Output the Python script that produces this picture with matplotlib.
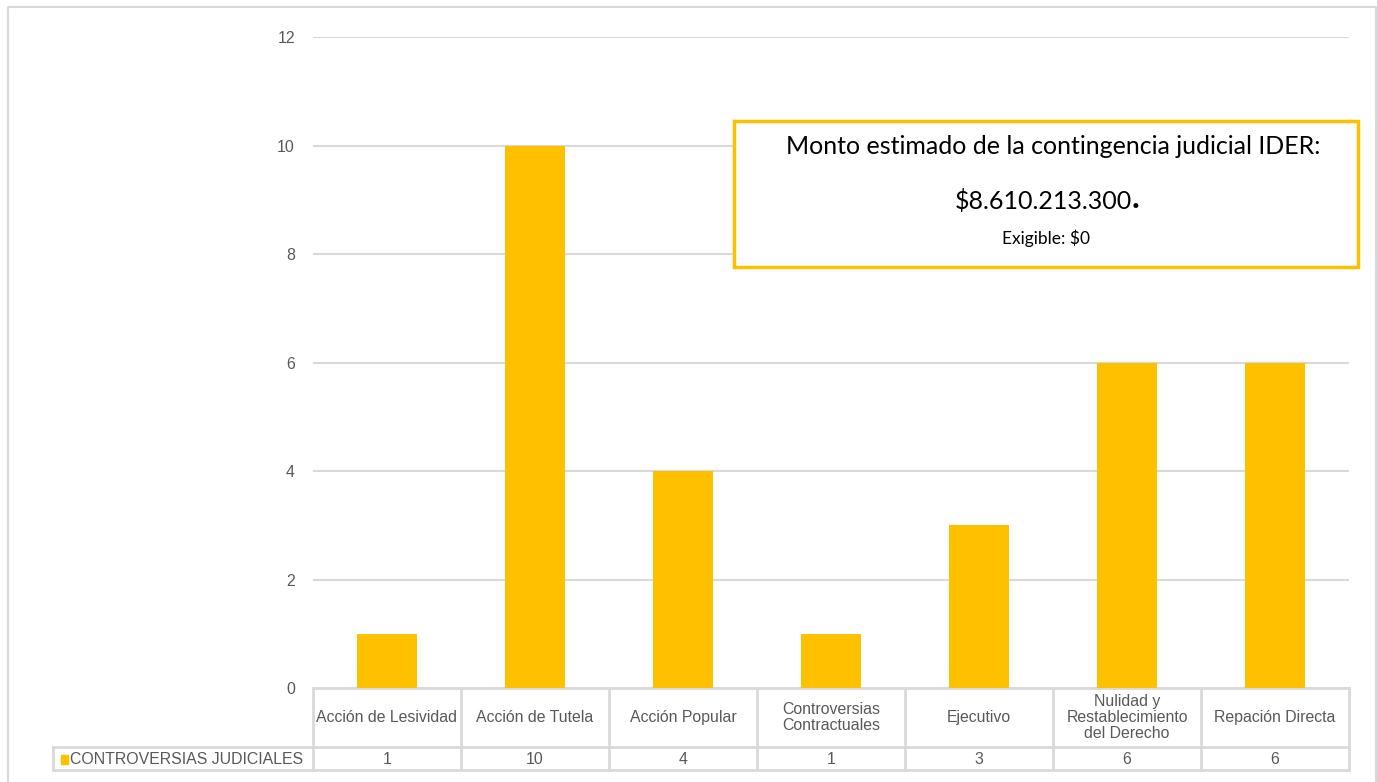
import matplotlib.pyplot as plt
import numpy as np

categories = ["Acción de Lesividad", "Acción de Tutela", "Acción Popular",
              "Controversias\nContractuales", "Ejecutivo",
              "Nulidad y\nRestablecimiento\ndel Derecho", "Repación Directa"]
values = [1, 10, 4, 1, 3, 6, 6]
series_name = "CONTROVERSIAS JUDICIALES"
yticks = [0, 2, 4, 6, 8, 10, 12]
box_lines = ["Monto estimado de la contingencia judicial IDER:",
             "$8.610.213.300", "Exigible: $0"]

W, H = 1377, 782
BAR = "#FFC000"
GRID = "#D9D9D9"
TXT = "#595959"
FS = 11.4
plt.rcParams['font.family'] = ['Liberation Sans', 'DejaVu Sans']


def pixel_axes(fig, z):
    a = fig.add_axes([0, 0, 1, 1], zorder=z)
    a.set_xlim(0, W)
    a.set_ylim(H, 0)
    a.axis("off")
    a.patch.set_alpha(0)
    return a


def main():
    fig = plt.figure(figsize=(W / 100, H / 100), dpi=100)
    ov = pixel_axes(fig, 0)

    x0, x1, y_top, y0 = 313, 1349, 37, 688
    ax = fig.add_axes([x0 / W, 1 - y0 / H, (x1 - x0) / W, (y0 - y_top) / H], zorder=1)
    ax.patch.set_alpha(0)
    n = len(categories)
    x = np.arange(n)
    ax.bar(x, values, width=0.4, color=BAR, zorder=3)
    ax.set_xlim(-0.5, n - 0.5)
    ax.set_ylim(0, 12)
    ax.set_yticks(yticks)
    ax.set_yticklabels([str(t) for t in yticks], color=TXT, fontsize=FS)
    ax.tick_params(axis="y", length=0, pad=13)
    ax.set_xticks([])
    ax.yaxis.grid(True, color=GRID, linewidth=1.5)
    ax.set_axisbelow(True)
    for s in ax.spines.values():
        s.set_visible(False)

    # outer chart border
    ov.plot([8, 8, 1376, 1376], [H + 5, 7, 7, H + 5], color=GRID, lw=1.5)

    # data table
    r0, r1, r2 = 688, 747, 770
    lx = 53
    cw = (x1 - x0) / n
    lw = 2
    ov.plot([x0, x1], [r0, r0], color=GRID, lw=lw)
    ov.plot([lx, x1], [r1, r1], color=GRID, lw=lw)
    ov.plot([lx, x1], [r2, r2], color=GRID, lw=lw)
    ov.plot([lx, lx], [r1, r2], color=GRID, lw=lw)
    for i in range(n + 1):
        ov.plot([x0 + i * cw] * 2, [r0, r2], color=GRID, lw=lw)
    for i, (c, v) in enumerate(zip(categories, values)):
        cx = x0 + (i + 0.5) * cw
        ov.text(cx, (r0 + r1) / 2, c, ha="center", va="center", color=TXT,
                fontsize=FS, linespacing=1.1)
        ov.text(cx, (r1 + r2) / 2 + 1, str(v), ha="center", va="center",
                color=TXT, fontsize=FS)
    ov.add_patch(plt.Rectangle((61, 755), 7, 9, color=BAR))
    ov.text(70, (r1 + r2) / 2 + 1, series_name, ha="left", va="center",
            color=TXT, fontsize=FS)

    # annotation box above the gridlines
    top = pixel_axes(fig, 2)
    top.add_patch(plt.Rectangle((734, 121), 624, 146, facecolor="white",
                                edgecolor=BAR, lw=2.5))
    bf = ['Lato', 'DejaVu Sans']
    top.text(1053, 146, box_lines[0], ha="center", va="center", fontsize=18,
             family=bf, color="black")
    top.text(1043, 201, box_lines[1], ha="center", va="center", fontsize=18,
             family=bf, color="black")
    top.text(1132, 199, ".", ha="left", va="center", fontsize=24,
             fontweight="bold", family=bf, color="black")
    top.text(1046, 238, box_lines[2], ha="center", va="center", fontsize=12.5,
             family=bf, color="black")

    fig.savefig("out.png", dpi=100)


if __name__ == "__main__":
    main()
